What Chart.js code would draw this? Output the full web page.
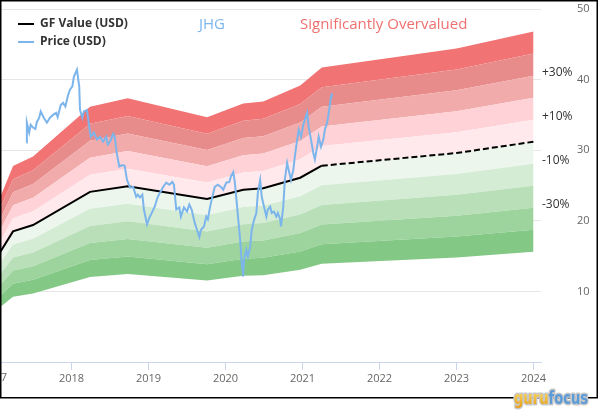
<!DOCTYPE html>
<html>
<head>
<meta charset="utf-8">
<script src="https://cdn.jsdelivr.net/npm/chart.js@4.4.0/dist/chart.umd.min.js"></script>
<style>
	html, body { margin: 0; padding: 0; background: #fff; }
	#wrap { width: 600px; height: 420px; }
</style>
</head>
<body>
<div id="wrap"><canvas id="gfChart" width="600" height="420"></canvas></div>
<script>
// GF value (decimal years), dashed from gfEstimateFrom on
const gfYears = [2017.07, 2017.24, 2017.50, 2018.24, 2018.73, 2019.76, 2020.23, 2020.49, 2020.97, 2021.25, 2023.00, 2024.00];
const gfValues = [15.5, 18.5, 19.4, 24.1, 24.9, 23.1, 24.4, 24.6, 26.1, 27.8, 29.6, 31.2];
const gfEstimateFrom = 2021.25;

// price
const priceYears = [
	2017.415, 2017.42, 2017.45, 2017.47, 2017.50, 2017.53, 2017.55, 2017.58, 2017.60, 2017.64,
	2017.68, 2017.72, 2017.76, 2017.80, 2017.82, 2017.86, 2017.89, 2017.92, 2017.95, 2017.98,
	2018.01, 2018.03, 2018.07, 2018.10, 2018.11, 2018.14, 2018.16, 2018.20, 2018.23, 2018.25,
	2018.29, 2018.33, 2018.37, 2018.41, 2018.45, 2018.47, 2018.50, 2018.54, 2018.56, 2018.59,
	2018.62, 2018.66, 2018.69, 2018.72, 2018.76, 2018.80, 2018.84, 2018.86, 2018.89, 2018.92,
	2018.94, 2018.98, 2019.01, 2019.05, 2019.08, 2019.12, 2019.15, 2019.19, 2019.23, 2019.27,
	2019.31, 2019.33, 2019.36, 2019.40, 2019.42, 2019.46, 2019.50, 2019.53, 2019.56, 2019.60,
	2019.63, 2019.66, 2019.68, 2019.72, 2019.75, 2019.77, 2019.80, 2019.82, 2019.86, 2019.90,
	2019.94, 2019.97, 2020.01, 2020.05, 2020.07, 2020.10, 2020.12, 2020.15, 2020.19, 2020.21,
	2020.23, 2020.24, 2020.27, 2020.29, 2020.32, 2020.34, 2020.37, 2020.40, 2020.42, 2020.45,
	2020.47, 2020.50, 2020.53, 2020.55, 2020.58, 2020.60, 2020.63, 2020.66, 2020.68, 2020.71,
	2020.72, 2020.75, 2020.77, 2020.80, 2020.82, 2020.85, 2020.88, 2020.90, 2020.93, 2020.95,
	2020.98, 2021.01, 2021.03, 2021.06, 2021.08, 2021.11, 2021.14, 2021.16, 2021.19, 2021.21,
	2021.24, 2021.27, 2021.29, 2021.32, 2021.34, 2021.37, 2021.38
];
const priceValues = [
	31.1, 33.9, 32.5, 33.6, 33.2, 33.0, 34.0, 34.6, 35.5, 34.6,
	33.9, 34.6, 35.0, 35.3, 34.7, 36.4, 36.7, 36.2, 37.6, 38.6,
	39.0, 40.4, 41.4, 39.0, 35.7, 34.6, 35.5, 35.7, 33.3, 31.9,
	32.5, 31.5, 31.9, 31.2, 31.9, 30.8, 31.2, 32.3, 31.9, 29.4,
	27.7, 27.9, 27.8, 25.8, 24.7, 24.8, 23.4, 23.7, 23.3, 23.7,
	21.6, 19.5, 20.4, 21.3, 22.0, 23.4, 24.0, 24.8, 25.4, 25.1,
	25.5, 25.1, 21.6, 21.9, 20.6, 21.9, 21.3, 22.3, 21.6, 19.7,
	18.7, 17.7, 18.7, 19.2, 20.6, 20.2, 22.0, 23.0, 24.8, 25.1,
	24.8, 24.4, 25.4, 25.5, 26.3, 26.9, 25.5, 22.0, 17.3, 14.1,
	12.1, 14.5, 15.9, 14.9, 16.3, 18.7, 20.1, 21.1, 24.0, 25.8,
	23.4, 22.0, 20.6, 21.6, 22.0, 21.1, 21.3, 20.6, 21.1, 20.2,
	19.2, 22.0, 25.8, 28.2, 27.2, 25.8, 27.2, 29.1, 31.5, 32.9,
	31.9, 33.6, 34.3, 35.3, 33.3, 31.5, 29.6, 28.7, 30.5, 31.9,
	30.5, 31.5, 32.9, 33.9, 35.3, 37.6, 38.1
];

// band edges as multiples of GF value, and fill colours from bottom up
const bandFactors = [0.5, 0.6, 0.7, 0.8, 0.9, 1.0, 1.1, 1.2, 1.3, 1.4, 1.5];
const bandColors = ['#84c886', '#9dd49d', '#b8dfb8', '#d4ebd4', '#ecf6ec', '#ffe9ec', '#fed2d7', '#f1abab', '#e88b8b', '#f17373'];

// axes
const xTicks = [2018, 2019, 2020, 2021, 2022, 2023, 2024];
const xCutTick = 2017; // label that sits half outside the plot on the left
const yTicks = [10, 20, 30, 40, 50];
const pctLabels = ['+30%', '+10%', '-10%', '-30%'];
const pctFactors = [1.3, 1.1, 0.9, 0.7];

const FONT = '"Open Sans", "DejaVu Sans", sans-serif';

const toPoints = (xs, ys) => xs.map((x, i) => ({ x: x, y: ys[i] }));

// datasets: price on top, then GF, then the band edges
const datasets = [
	{
		label: 'Price (USD)',
		data: toPoints(priceYears, priceValues),
		borderColor: '#7cb5ec',
		borderWidth: 2,
		pointRadius: 0,
		fill: false
	},
	{
		label: 'GF Value (USD)',
		data: toPoints(gfYears, gfValues),
		borderColor: '#000',
		borderWidth: 2,
		pointRadius: 0,
		fill: false,
		segment: {
			borderDash: ctx => ctx.p0.parsed.x >= gfEstimateFrom ? [6, 3] : undefined
		}
	}
];
bandFactors.forEach((f, i) => {
	datasets.push({
		label: 'band' + i,
		data: toPoints(gfYears, gfValues.map(v => +(v * f).toFixed(3))),
		borderWidth: 0,
		pointRadius: 0,
		backgroundColor: i > 0 ? bandColors[i - 1] : 'transparent',
		fill: i > 0 ? '-1' : false
	});
});

// legend, titles, % labels, logo and frame
const decor = {
	id: 'decor',
	afterDatasetsDraw(chart){
		const ctx = chart.ctx;
		const y = chart.scales.y;
		const x = chart.scales.x;
		const last = gfValues[gfValues.length - 1];
		ctx.save();
		ctx.font = '12px ' + FONT;
		ctx.fillStyle = '#333';
		ctx.textBaseline = 'middle';
		ctx.textAlign = 'left';
		pctLabels.forEach((t, i) => {
			ctx.fillText(t, chart.chartArea.right + 1, y.getPixelForValue(last * pctFactors[i]) - 3);
		});
		// cut-off year label at the left edge
		ctx.font = '11px ' + FONT;
		ctx.fillStyle = '#666';
		ctx.textAlign = 'center';
		ctx.textBaseline = 'top';
		ctx.fillText(String(xCutTick), x.getPixelForValue(xCutTick), chart.chartArea.bottom + 10);
		ctx.restore();
	},
	afterDraw(chart){
		const ctx = chart.ctx;
		ctx.save();

		// legend
		const items = [['GF Value (USD)', '#000'], ['Price (USD)', '#7cb5ec']];
		items.forEach((it, i) => {
			const ly = 24 + i * 18;
			ctx.strokeStyle = it[1];
			ctx.lineWidth = 2;
			ctx.beginPath();
			ctx.moveTo(18, ly);
			ctx.lineTo(34, ly);
			ctx.stroke();
			ctx.font = 'bold 12px ' + FONT;
			ctx.fillStyle = '#333';
			ctx.textBaseline = 'middle';
			ctx.textAlign = 'left';
			ctx.fillText(it[0], 40, ly);
		});

		// titles
		ctx.font = '15px ' + FONT;
		ctx.fillStyle = '#7cb5ec';
		ctx.textAlign = 'center';
		ctx.fillText('JHG', 212, 25);
		ctx.fillStyle = '#f07070';
		ctx.textAlign = 'left';
		ctx.fillText('Significantly Overvalued', 300, 25);

		// frame
		ctx.strokeStyle = '#000';
		ctx.lineWidth = 1.5;
		ctx.strokeRect(0.75, 0.75, 596.5, 397);

		// logo
		ctx.font = 'bold 17px "DejaVu Sans Condensed", "DejaVu Sans", sans-serif';
		const w1 = ctx.measureText('guru').width;
		const w2 = ctx.measureText('focus').width;
		const sx = 74 / (w1 + w2);
		ctx.translate(514, 404);
		ctx.scale(sx, 1);
		ctx.textBaseline = 'alphabetic';
		ctx.lineJoin = 'round';
		ctx.lineWidth = 3;
		ctx.strokeStyle = '#c8c8c8';
		ctx.strokeText('guru', 0, 0);
		ctx.strokeText('focus', w1, 0);
		const g = ctx.createLinearGradient(0, -13, 0, 2);
		g.addColorStop(0, '#fbd960');
		g.addColorStop(1, '#e9a21b');
		ctx.fillStyle = g;
		ctx.fillText('guru', 0, 0);
		ctx.fillStyle = '#5a9bd8';
		ctx.fillText('focus', w1, 0);
		ctx.restore();
	}
};

new Chart(document.getElementById('gfChart'), {
	type: 'line',
	data: { datasets: datasets },
	options: {
		responsive: false,
		animation: false,
		layout: { padding: { top: 9, left: 0, right: 0, bottom: 0 } },
		plugins: {
			legend: { display: false },
			tooltip: { enabled: false }
		},
		elements: { line: { tension: 0 } },
		scales: {
			x: {
				type: 'linear',
				min: 2017.071,
				max: 2024.097,
				afterBuildTicks: s => { s.ticks = xTicks.map(v => ({ value: v })) },
				afterFit: s => { s.height = 58 },
				grid: { drawOnChartArea: false, drawTicks: true, tickLength: 8, color: '#ccd6eb' },
				border: { display: true, color: '#ccd6eb' },
				ticks: {
					autoSkip: false,
					maxRotation: 0,
					padding: 2,
					color: '#666',
					font: { family: FONT, size: 11 },
					callback: v => String(v)
				}
			},
			y: {
				type: 'linear',
				position: 'right',
				min: 0,
				max: 50,
				afterBuildTicks: s => { s.ticks = yTicks.map(v => ({ value: v })) },
				afterFit: s => { s.width = 59 },
				// transparent tick marks leave room for the % labels
				grid: { color: '#e6e6e6', drawTicks: true, tickLength: 36, tickColor: 'rgba(0,0,0,0)' },
				border: { display: false },
				ticks: {
					padding: 0,
					color: '#666',
					font: { family: FONT, size: 11 },
					callback: v => String(v)
				}
			}
		}
	},
	plugins: [decor]
});
</script>
</body>
</html>
